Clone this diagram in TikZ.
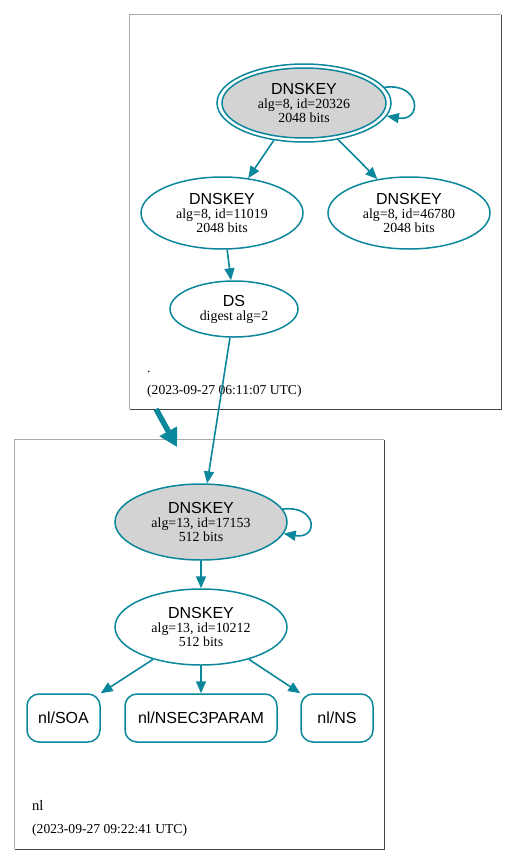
\documentclass[tikz,border=0pt]{standalone}
\usepackage{fontspec}
\setmainfont{Liberation Serif}
\newfontfamily\dvsans{Liberation Sans}
\usetikzlibrary{arrows.meta,shapes.geometric}
\definecolor{sec}{HTML}{0A879A}
\definecolor{lgray}{HTML}{D3D3D3}
\definecolor{boxlight}{HTML}{AAAAAA}
\definecolor{boxdark}{HTML}{444444}
\tikzset{
  keynode/.style={ellipse, draw=sec, line width=1.5pt, inner sep=0pt, align=center,
    font=\fontsize{13.9}{14}\selectfont},
  rrnode/.style={rectangle, rounded corners=12pt, draw=sec, line width=1.5pt, inner sep=0pt,
    minimum height=48pt, font=\dvsans\fontsize{16}{16}\selectfont},
  edge/.style={draw=sec, line width=1.6pt, -{Triangle[length=12pt,width=10pt]}},
  zonelbl/.style={anchor=base west, inner sep=0pt, font=\fontsize{13.6}{14}\selectfont},
}
\newcommand{\hd}[1]{{\dvsans\fontsize{16}{16}\selectfont #1}}
\begin{document}
\begin{tikzpicture}[x=1pt,y=-1pt]
\useasboundingbox (0,0) rectangle (517,865);
% cluster boxes
\node[minimum width=371pt, minimum height=394pt, inner sep=0pt] (topbox) at (315.5,212) {};
\draw[boxlight, line width=1pt] (topbox.south west) -- (topbox.north west) -- (topbox.north east);
\draw[boxdark, line width=1pt] (topbox.north east) -- (topbox.south east) -- (topbox.south west);
\node[minimum width=369pt, minimum height=409pt, inner sep=0pt] (botbox) at (199.5,644.5) {};
\draw[boxlight, line width=1pt] (botbox.south west) -- (botbox.north west) -- (botbox.north east);
\draw[boxdark, line width=1pt] (botbox.north east) -- (botbox.south east) -- (botbox.south west);

% root zone
\node[ellipse, draw=sec, line width=1.5pt, minimum width=174pt, minimum height=78pt, inner sep=0pt] (kskout) at (304,103) {};
\node[keynode, fill=lgray, minimum width=164pt, minimum height=70pt] (ksk) at (304,103)
  {\hd{DNSKEY}\\alg=8, id=20326\\2048 bits};
\node[keynode, minimum width=162pt, minimum height=72pt] (zsk1) at (222,213)
  {\hd{DNSKEY}\\alg=8, id=11019\\2048 bits};
\node[keynode, minimum width=162pt, minimum height=72pt] (zsk2) at (409,213)
  {\hd{DNSKEY}\\alg=8, id=46780\\2048 bits};
\node[keynode, minimum width=128pt, minimum height=56pt] (ds) at (234,309)
  {\hd{DS}\\digest alg=2};
\node[zonelbl] (rootlbl) at (147,372) {.};
\node[zonelbl] (rootdate) at (147,394) {(2023-09-27 06:11:07 UTC)};

\draw[edge] (kskout.11) .. controls +(36,-5) and +(36,6) .. (kskout.-9);
\draw[edge] (kskout.231) -- (zsk1.53);
\draw[edge] (kskout.313) -- (zsk2.133);
\draw[edge] (zsk1.278) -- (ds.96);

% nl zone
\node[keynode, fill=lgray, minimum width=172pt, minimum height=76pt] (nlksk) at (201,522)
  {\hd{DNSKEY}\\alg=13, id=17153\\512 bits};
\node[keynode, minimum width=172pt, minimum height=76pt] (nlzsk) at (201,627)
  {\hd{DNSKEY}\\alg=13, id=10212\\512 bits};
\node[rrnode, minimum width=73pt] (soa) at (63.5,718) {nl/SOA};
\node[rrnode, minimum width=152pt] (n3p) at (201,718) {nl/NSEC3PARAM};
\node[rrnode, minimum width=72pt] (ns) at (337,718) {nl/NS};
\node[zonelbl, font=\fontsize{14.5}{15}\selectfont] (nllbl) at (32,810) {nl};
\node[zonelbl] (nldate) at (32,833) {(2023-09-27 09:22:41 UTC)};

\draw[edge] (ds.262) -- (nlksk.81);
\draw[edge] (nlksk.9) .. controls +(35,-4) and +(35,6) .. (nlksk.-8);
\draw[edge] (nlksk.south) -- (nlzsk.north);
\draw[edge] (nlzsk.214) -- (soa.north east);
\draw[edge] (nlzsk.south) -- (n3p.north);
\draw[edge] (nlzsk.326) -- (ns.north west);

% delegation
\coordinate (delfrom) at (156,409);
\coordinate (delto) at (177,447);
\draw[draw=sec, line width=5.5pt, -{Triangle[length=18pt,width=19pt]}] (delfrom) -- (delto);
\end{tikzpicture}
\end{document}
